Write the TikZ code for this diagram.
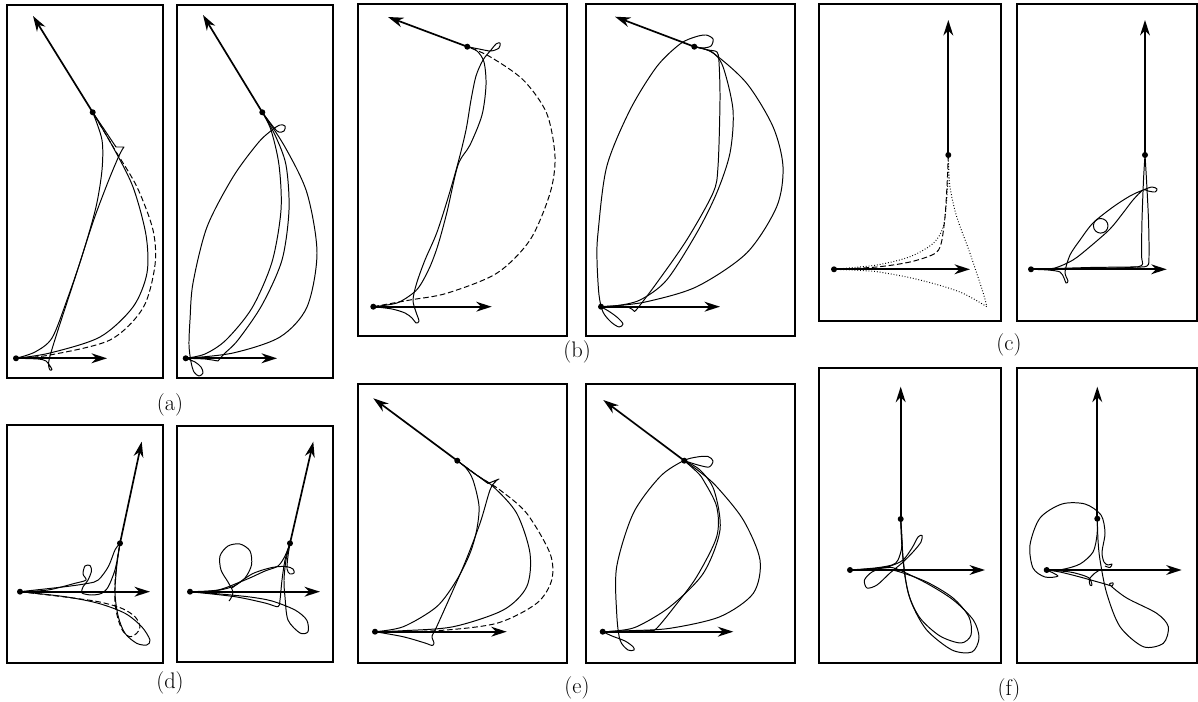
\documentclass[tikz,border=0pt]{standalone}
\usepackage{tikz}
\usetikzlibrary{arrows.meta}

\begin{document}
\begin{tikzpicture}[x=0.025cm, y=-0.025cm,
    panel/.style={draw=black, line width=0.9pt},
    axis/.style={-{Stealth[length=11pt, width=7pt, inset=3.5pt]}, line width=1.2pt},
    dot/.style={fill=black},
    traj/.style={line width=0.7pt, line join=round},
    refdash/.style={line width=0.7pt, dash pattern=on 4pt off 2pt},
    refdot/.style={line width=0.7pt, dash pattern=on 0.6pt off 1.4pt},
    caption/.style={font=\fontsize{16}{19}\selectfont, inner sep=0pt}
]
\useasboundingbox (0,0) rectangle (1198,702);

% --- Panel frames ---
\draw [panel] (7,5) rectangle (163,378);
\draw [panel] (177,5) rectangle (333,378);
\draw [panel] (358,4) rectangle (567,336);
\draw [panel] (586,4) rectangle (795,336);
\draw [panel] (819,4) rectangle (1001,321);
\draw [panel] (1017,4) rectangle (1197,321);
\draw [panel] (7,425) rectangle (163,663);
\draw [panel] (177,426) rectangle (333,662);
\draw [panel] (358,384) rectangle (567,663);
\draw [panel] (586,384) rectangle (795,663);
\draw [panel] (819,368) rectangle (1001,663);
\draw [panel] (1017,368) rectangle (1197,663);

% --- Captions ---
\node (capa) [caption] at (170,405) {(a)};
\node (capb) [caption] at (577,352) {(b)};
\node (capc) [caption] at (1009,345) {(c)};
\node (capd) [caption] at (170,683) {(d)};
\node (cape) [caption] at (577,688) {(e)};
\node (capf) [caption] at (1009,690) {(f)};

% --- Panel (a), left ---
\coordinate (aLs) at (16,358.3);  \coordinate (aLsx) at (107,358.3);
\coordinate (aLg) at (92.7,112.3); \coordinate (aLgx) at (33,16);
\draw [traj] plot[smooth] coordinates {(aLs) (50,353) (100,337) (133,307) (147,273) (146,235) (133,187) (113,147) (aLg)};
\draw [refdash] plot[smooth] coordinates {(aLs) (50,355) (110,340) (143,308) (155,265) (153,230) (137,187) (115,150) (aLg)};
\draw [traj] plot[smooth] coordinates {(aLs) (35,352) (52,338) (67,300) (83,253) (96,207) (102,170) (102,140) (aLg)};
\draw [traj] plot[smooth] coordinates {(aLs) (38,359) (46,361) (50,366) (52,369.5) (50,370) (48.5,365) (50,356) (58,330) (75,278) (93,222) (108,182) (118,158) (122,150) (124,147)}
      -- (116,147) -- (aLg);
\draw [axis] (aLs) -- (aLsx);
\draw [axis] (aLg) -- (aLgx);
\fill [dot] (aLs) circle (3);
\fill [dot] (aLg) circle (3);

% --- Panel (a), right ---
\coordinate (aRs) at (185.7,358.3); \coordinate (aRsx) at (277,358.3);
\coordinate (aRg) at (262.3,112.3); \coordinate (aRgx) at (203,15);
\draw [traj] plot[smooth] coordinates {(aRs) (233,353) (280,337) (307,307) (317,253) (307,193) (285,147) (aRg)};
\draw [traj] plot[smooth] coordinates {(aRg) (275,135) (286,165) (289,210) (282,260) (262,305) (238,340) (224,354) (218,361)}
      -- plot[smooth] coordinates {(218,361) (205,359) (aRs)};
\draw [traj] plot[smooth] coordinates {(aRg) (271,130) (279,165) (281,210) (272,262) (252,308) (226,340) (205,354) (aRs)};
\draw [traj] plot[smooth] coordinates {(aRs) (195,362) (201,367) (203,373) (199,376) (194,372) (191,362) (189,345) (190,320) (193,283) (207,227) (233,177) (258,143) (272,130) (280,125) (285,126) (284,131) (277,131) (aRg)};
\draw [axis] (aRs) -- (aRsx);
\draw [axis] (aRg) -- (aRgx);
\fill [dot] (aRs) circle (3);
\fill [dot] (aRg) circle (3);

% --- Panel (b), left ---
\coordinate (bLs) at (373.3,306.7); \coordinate (bLsx) at (491.7,306.7);
\coordinate (bLg) at (467.3,46.7);  \coordinate (bLgx) at (388,17);
\draw [refdash] plot[smooth] coordinates {(bLs) (410,300) (446.7,293.3) (496.7,273.3) (530,240) (550,193.3) (555,156.7) (546.7,113.3) (523.3,80) (490,56.7) (bLg)};
\draw [traj] plot[smooth] coordinates {(bLg) (477,51) (484,62) (486,85) (482,115) (470,145) (458,165) (447,212) (438,245) (430,266.7) (421,284) (413.3,293) (397,303) (bLs)};
\draw [traj] plot[smooth] coordinates {(bLs) (392,309) (405,313) (412,318) (416,323) (419,321) (416,312) (413,300) (416.7,283) (425,260) (436.7,233) (448,198) (458,163) (466,130) (471,100) (476,76) (483,60) (491,50) (496,44) (500,43) (499,48) (491,51) (479,49) (bLg)};
\draw [axis] (bLs) -- (bLsx);
\draw [axis] (bLg) -- (bLgx);
\fill [dot] (bLs) circle (3);
\fill [dot] (bLg) circle (3);

% --- Panel (b), right ---
\coordinate (bRs) at (601,306.7); \coordinate (bRsx) at (720,306.7);
\coordinate (bRg) at (694.3,46.7); \coordinate (bRgx) at (615,16.7);
\draw [traj] plot[smooth] coordinates {(bRs) (610,312) (618,318) (623,324) (619,327) (611,322) (603,312) (599,295) (597,260) (598,233) (606.7,166.7) (630,110) (656.7,66.7) (680,44) (695,37) (706,35) (713,39) (711,46) (703,48) (bRg)};
\draw [traj] plot[smooth] coordinates {(bRg) (713,53) (746.7,83.3) (773,126.7) (783,166.7) (776.7,206.7) (746.7,253) (696.7,286.7) (646.7,301.7) (613,306) (bRs)};
\draw [traj] plot[smooth] coordinates {(bRg) (712,52) (723,66.7) (733,110) (730,153) (716.7,193) (696.7,233) (666.7,280) (640,300) (615,306) (bRs)};
\draw [traj] plot[smooth] coordinates {(bRg) (708,50) (717,52) (719,62) (720,100) (718,166.7) (713,193) (686.7,240) (656.7,283) (637,309) (634,311)}
      -- plot[smooth] coordinates {(634,311) (628,307) (613,306) (bRs)};
\draw [axis] (bRs) -- (bRsx);
\draw [axis] (bRg) -- (bRgx);
\fill [dot] (bRs) circle (3);
\fill [dot] (bRg) circle (3);

% --- Panel (c), left ---
\coordinate (cLs) at (834,269.3); \coordinate (cLsx) at (970,269.3);
\coordinate (cLg) at (948.3,155); \coordinate (cLgx) at (948.3,20);
\draw [refdot] plot[smooth] coordinates {(cLg) (948.3,173) (946.7,200) (943.3,226.7) (933.3,243.3) (910,256.7) (876.7,265) (cLs)};
\draw [refdash] plot[smooth] coordinates {(cLg) (947.3,180) (945,216.7) (941,244) (934,254) (910,262) (876.7,267) (cLs)};
\draw [refdot] plot[smooth] coordinates {(cLg) (950,186.7) (956.7,216.7) (970,253.3) (983.3,293.3) (986.7,306.7)}
      -- plot[smooth] coordinates {(986.7,306.7) (960,292) (920,280) (876.7,271.7) (cLs)};
\draw [axis] (cLs) -- (cLsx);
\draw [axis] (cLg) -- (cLgx);
\fill [dot] (cLs) circle (3);
\fill [dot] (cLg) circle (3);

% --- Panel (c), right ---
\coordinate (cRs) at (1031,269.3); \coordinate (cRsx) at (1166.7,269.3);
\coordinate (cRg) at (1145,155);   \coordinate (cRgx) at (1145,20);
\draw [traj] plot[smooth] coordinates {(cRg) (1143.5,180) (1142,220) (1141.5,255) (1142,265) (1130,267.5) (1090,268.5) (cRs)};
\draw [traj] plot[smooth] coordinates {(cRg) (1146.5,180) (1148.5,220) (1149,255) (1147,266) (1130,267) (1090,267.5) (cRs)};
\draw [traj] plot[smooth] coordinates {(cRs) (1048,270) (1060,272) (1064,278) (1066,283) (1068,281) (1065,272) (1070,255) (1080,240) (1093,223) (1113,207) (1130,196) (1143,190) (1152,187) (1157,189) (1155,192) (1148,191) (1143,190) (1133,200) (1123,213) (1110,229) (1090,246.7) (1073,260) (1055,268) (1040,269.3)};
\draw [traj] (1100.7,225.8) circle (7.3);
\draw [axis] (cRs) -- (cRsx);
\draw [axis] (cRg) -- (cRgx);
\fill [dot] (cRs) circle (3);
\fill [dot] (cRg) circle (3);

% --- Panel (d), left ---
\coordinate (dLs) at (20,591.7);  \coordinate (dLsx) at (150,591.7);
\coordinate (dLg) at (120,543.3); \coordinate (dLgx) at (141.7,441.7);
\draw [traj] plot[smooth] coordinates {(dLs) (48,590) (75,583.3) (86,580) (83,574) (85,566) (90,565.5) (91.5,571) (88,580) (83,587) (82,593) (91.7,595) (101.7,593.3) (108.3,586.7) (115,570) (118.3,553.3) (dLg)};
\draw [traj] plot[smooth] coordinates {(dLs) (65,586.7) (88.3,583.3) (98.3,580) (108.3,566.7) (115,550) (dLg)};
\draw [traj] plot[smooth] coordinates {(dLs) (65,596.7) (98.3,603.3) (125,613.3) (141.7,626.7) (150,640) (146.7,645) (136.7,643.3) (125,633.3) (118.3,616.7) (115,593.3) (116.7,566.7) (dLg)};
\draw [refdash] plot[smooth] coordinates {(dLs) (65,597) (98.3,601.7) (121.7,608.3) (135,616.7) (140,626.7) (136.7,633.3) (130,636.7) (123.3,631.7) (118.3,620) (115,603.3) (115,583.3) (116.7,563.3) (dLg)};
\draw [axis] (dLs) -- (dLsx);
\draw [axis] (dLg) -- (dLgx);
\fill [dot] (dLs) circle (3);
\fill [dot] (dLg) circle (3);

% --- Panel (d), right ---
\coordinate (dRs) at (190,591.7);  \coordinate (dRsx) at (320,591.7);
\coordinate (dRg) at (290,543.3);  \coordinate (dRgx) at (313.3,441.7);
\draw [traj] plot[smooth] coordinates {(dRs) (205,591.5) (220,590) (234,586) (245,578) (251.5,565) (250,551) (240,544) (228,546) (220,556) (221,570) (228,582) (233,592) (231,598) (229,601)};
\draw [traj] plot[smooth] coordinates {(232,588) (252,574) (272,567.5) (286,566.5) (293,569) (294,573) (290,574) (287,569) (288,556) (dRg)};
\draw [traj] plot[smooth] coordinates {(dRs) (218,590) (240,582) (252,577) (265,571) (278,566) (285,556) (dRg)};
\draw [traj] plot[smooth] coordinates {(dRg) (286,560) (284,580) (285,597) (288,620) (300,633) (308,631.7) (306.7,620) (295,610) (272,601) (250,597) (220,594) (dRs)};
\draw [traj] plot[smooth] coordinates {(dRs) (235,596.7) (265,603) (278,606.7) (280,600) (282,580) (285,560) (dRg)};
\draw [axis] (dRs) -- (dRsx);
\draw [axis] (dRg) -- (dRgx);
\fill [dot] (dRs) circle (3);
\fill [dot] (dRg) circle (3);

% --- Panel (e), left ---
\coordinate (eLs) at (375,631.7);   \coordinate (eLsx) at (506.7,631.7);
\coordinate (eLg) at (457.3,460.7); \coordinate (eLgx) at (373.3,398.3);
\draw [traj] plot[smooth] coordinates {(eLg) (475,474) (493.3,486.7) (516.7,513.3) (530,553.3) (526.7,586.7) (503.3,610) (453.3,626.7) (403.3,630.7) (eLs)};
\draw [refdash] plot[smooth] coordinates {(eLg) (478,476) (500,490) (526.7,513.3) (550,553.3) (551.7,580) (536.7,603.3) (496.7,623.3) (436.7,630.7) (eLs)};
\draw [traj] plot[smooth] coordinates {(eLg) (466,468) (473,480) (479,506) (476.7,530) (470,553.3) (456.7,580) (436.7,606.7) (403.3,626.7) (eLs)};
\draw [traj] plot[smooth] coordinates {(eLs) (403,636.7) (425,643) (432,645.5) (434,643) (432,636) (436.7,626.7) (463.3,566.7) (480,523.3) (490,490) (496,481) (499,479)}
      -- (488,483.5) -- (eLg);
\draw [axis] (eLs) -- (eLsx);
\draw [axis] (eLg) -- (eLgx);
\fill [dot] (eLs) circle (3);
\fill [dot] (eLg) circle (3);

% --- Panel (e), right ---
\coordinate (eRs) at (602.7,631.7); \coordinate (eRsx) at (733.3,631.7);
\coordinate (eRg) at (684.3,460.7); \coordinate (eRgx) at (603.3,400);
\draw [traj] plot[smooth] coordinates {(eRs) (612,636) (625,641) (633,646.7) (634,650) (628,650) (620,640) (616.7,613.3) (616.7,566.7) (633.3,513.3) (660,476.7) (683,461) (697,457) (708,456.5) (713,461) (709,467) (698,465) (eRg)};
\draw [traj] plot[smooth] coordinates {(eRg) (700,472) (716.7,486.7) (743.3,520) (760,560) (753.3,593.3) (720,616.7) (670,628.3) (630,630.7) (eRs)};
\draw [traj] plot[smooth] coordinates {(eRg) (697,472) (703.3,480) (716.7,506.7) (716.7,536.7) (696.7,576.7) (675,606) (656.7,628.3) (650,630.5) (630,631) (eRs)};
\draw [traj] plot[smooth] coordinates {(eRg) (700,470) (714,490) (720,530) (703.3,573.3) (670,606.7) (636.7,626.7) (615,631) (eRs)};
\draw [axis] (eRs) -- (eRsx);
\draw [axis] (eRg) -- (eRgx);
\fill [dot] (eRs) circle (3);
\fill [dot] (eRg) circle (3);

% --- Panel (f), left ---
\coordinate (fLs) at (850,570);   \coordinate (fLsx) at (985,570);
\coordinate (fLg) at (900.7,519); \coordinate (fLgx) at (900.7,386.7);
\draw [traj] plot[smooth] coordinates {(fLs) (870,569) (890,566) (903,560) (912,548) (918,537) (922,535.5) (921,542) (913,552) (902,563) (890,573) (877,585) (867,588) (864.5,580) (872,572) (885,567.5) (897,569) (926.7,583.3) (953.3,600) (973.3,620) (979,638) (972,652) (952,650) (926.7,630) (911.7,603.3) (905,576.7) (901.7,543.3) (fLg)};
\draw [traj] plot[smooth] coordinates {(fLs) (880,569) (896.7,571) (926.7,582) (953,598) (969,617) (971,635) (961,643) (940,636) (920,618) (908.3,593.3) (903.3,560) (fLg)};
\draw [traj] plot[smooth] coordinates {(fLs) (875,568) (892,565) (898,560) (902,545) (fLg)};
\draw [axis] (fLs) -- (fLsx);
\draw [axis] (fLg) -- (fLgx);
\fill [dot] (fLs) circle (3);
\fill [dot] (fLg) circle (3);

% --- Panel (f), right ---
\coordinate (fRs) at (1046.7,570);  \coordinate (fRsx) at (1181.7,570);
\coordinate (fRg) at (1097.3,518.7); \coordinate (fRgx) at (1097.3,386.7);
\draw [traj] plot[smooth] coordinates {(fRg) (1097,535) (1093,552) (1080,564) (1062,569.5) (fRs)};
\draw [traj] plot[smooth] coordinates {(fRs) (1058,576) (1045,577) (1033,568) (1030,545) (1040,518) (1062,504) (1085,504) (1101,515) (1105,533) (1102,552) (1104,562) (1108,565) (1112,564) (1110,567.5) (1105,566)};
\draw [traj] plot[smooth] coordinates {(fRg) (1098,540) (1100,560) (1106.7,593.3) (1120,626.7) (1143.3,646.7) (1163.3,643.3) (1168.3,626.7) (1156.7,613.3) (1126.7,598) (1110,585) (1113,583) (1112,586) (1105,584) (1080,577) (1060,572) (fRs)};
\draw [traj] plot[smooth] coordinates {(fRs) (1070,572) (1085,576) (1090,579) (1092,585) (1090,585) (1089.5,579) (1095,573) (1100,570)};
\draw [axis] (fRs) -- (fRsx);
\draw [axis] (fRg) -- (fRgx);
\fill [dot] (fRs) circle (3);
\fill [dot] (fRg) circle (3);
\end{tikzpicture}
\end{document}
